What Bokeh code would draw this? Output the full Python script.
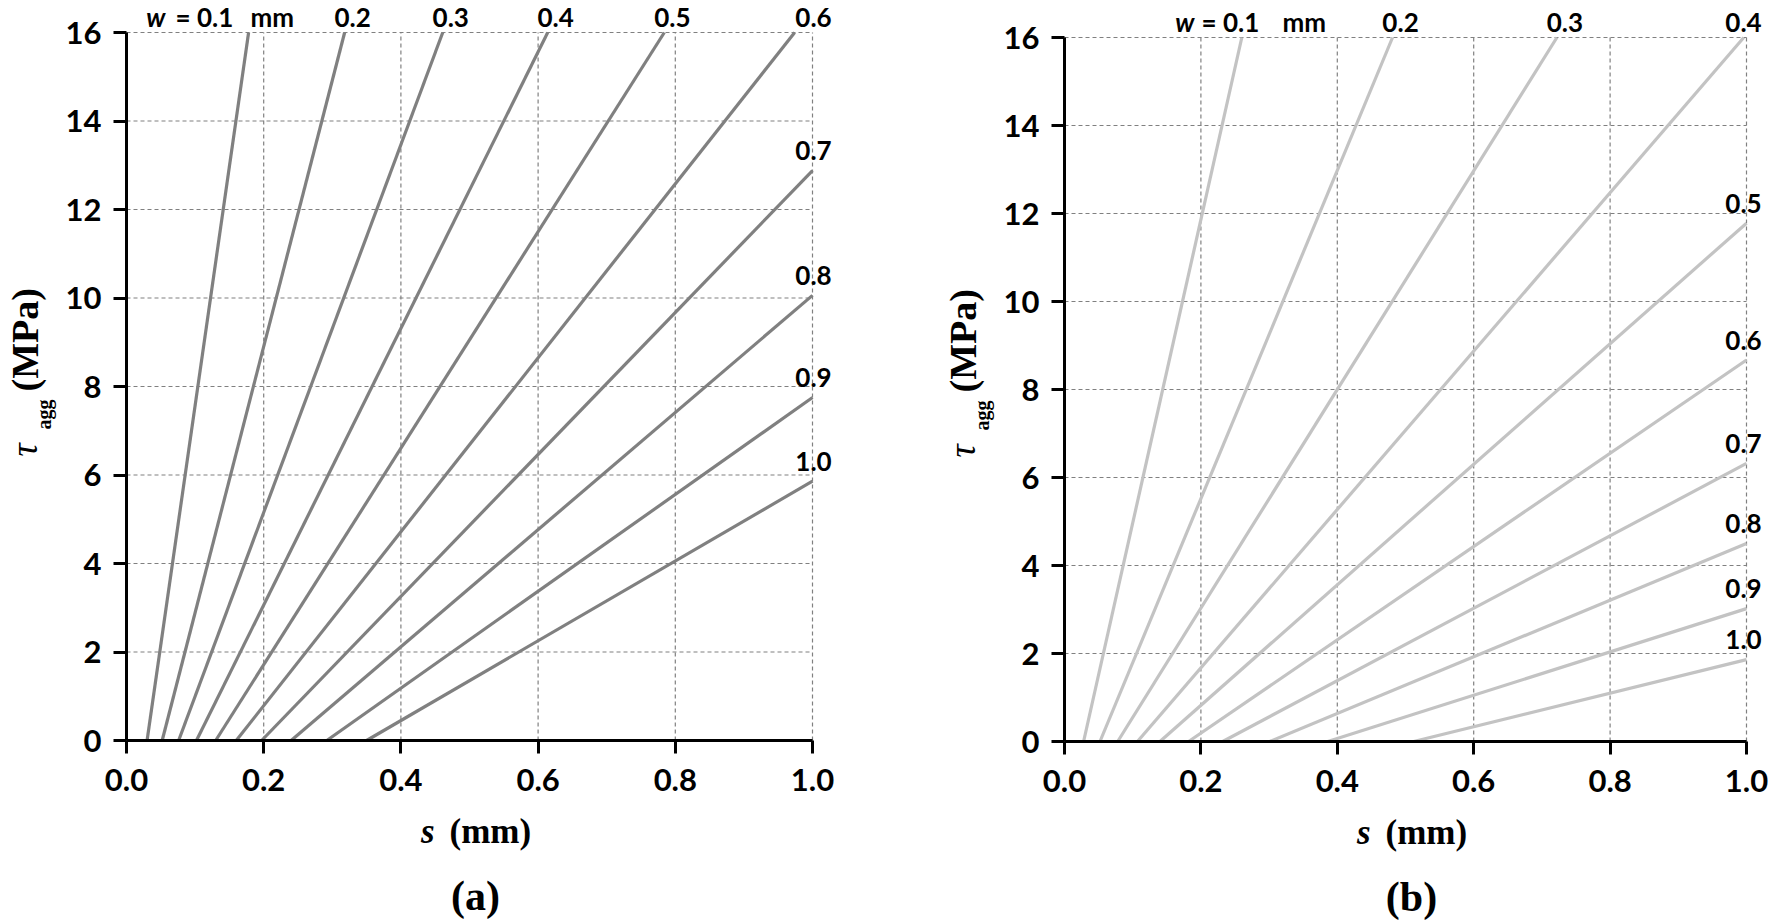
import math
from bokeh.plotting import figure
from bokeh.models import Range1d, FixedTicker, Label, LinearAxis, NumeralTickFormatter
from bokeh.layouts import row
from bokeh.embed import file_html
from bokeh.resources import INLINE

# ---------------- data ----------------
crack_widths = ["0.1", "0.2", "0.3", "0.4", "0.5", "0.6", "0.7", "0.8", "0.9", "1.0"]

# panel (a): slip s where each curve leaves the axis, and where it ends
a_start_s = [0.030, 0.052, 0.076, 0.102, 0.130, 0.160, 0.197, 0.240, 0.292, 0.350]
a_end_s = [0.178, 0.318, 0.461, 0.614, 0.784, 0.974, 1.0, 1.0, 1.0, 1.0]
a_end_tau = [16.0, 16.0, 16.0, 16.0, 16.0, 16.0, 12.88, 10.06, 7.75, 5.86]

# panel (b)
b_start_s = [0.028, 0.052, 0.078, 0.107, 0.140, 0.182, 0.232, 0.301, 0.386, 0.512]
b_end_s = [0.260, 0.481, 0.722, 0.996, 1.0, 1.0, 1.0, 1.0, 1.0, 1.0]
b_end_tau = [16.0, 16.0, 16.0, 16.0, 11.78, 8.67, 6.32, 4.50, 3.02, 1.86]

x_ticks = [0.0, 0.2, 0.4, 0.6, 0.8, 1.0]
x_tick_labels = ["0.0", "0.2", "0.4", "0.6", "0.8", "1.0"]
y_ticks = [0, 2, 4, 6, 8, 10, 12, 14, 16]
y_tick_labels = ["0", "2", "4", "6", "8", "10", "12", "14", "16"]

panel_captions = ["(a)", "(b)"]
x_title_parts = ["s", "(mm)"]
y_title_parts = ["\u03c4", "agg", "(MPa)"]
w_symbol = "w"
w_unit = "mm"

# ---------------- styling ----------------
SANS = "Lato"
SERIF = "Liberation Serif"
X_MIN, X_MAX = 0.0, 1.0
Y_MIN, Y_MAX = 0.0, 16.0
FIG_H = 922


def make_panel(start_s, end_s, end_tau, color, caption, fig_w, left_px, top_px,
               plot_w, plot_h, w_pos, right_dx):
    xspan = X_MAX - X_MIN
    yspan = Y_MAX - Y_MIN
    x_lo = X_MIN - left_px / plot_w * xspan
    x_hi = X_MIN + (fig_w - left_px) / plot_w * xspan
    y_hi = Y_MAX + top_px / plot_h * yspan
    y_lo = Y_MIN - (FIG_H - top_px - plot_h) / plot_h * yspan

    p = figure(width=fig_w, height=FIG_H,
               x_range=Range1d(x_lo, x_hi), y_range=Range1d(y_lo, y_hi),
               x_axis_location=None, y_axis_location=None,
               output_backend="svg", toolbar_location=None, min_border=0)
    p.outline_line_color = None
    p.background_fill_color = "white"
    p.border_fill_color = "white"
    p.xgrid.visible = False
    p.ygrid.visible = False

    def px(d):
        return d * xspan / plot_w

    def py(d):
        return d * yspan / plot_h

    def label(x, y, text, font, style, size, align="center", angle=0.0, xo=0, yo=0):
        p.add_layout(Label(x=x, y=y, x_offset=xo, y_offset=yo, text=text, angle=angle,
                           text_font=font, text_font_style=style, text_font_size=size,
                           text_align=align, text_baseline="middle", text_color="black"))

    # dashed grid at the tick positions
    gx = [t for t in x_ticks if t > X_MIN]
    gy = [t for t in y_ticks if t > Y_MIN]
    p.segment(x0=gx, y0=[Y_MIN] * len(gx), x1=gx, y1=[Y_MAX] * len(gx),
              line_color="#808080", line_width=1.2, line_dash="4 3", level="underlay")
    p.segment(x0=[X_MIN] * len(gy), y0=gy, x1=[X_MAX] * len(gy), y1=gy,
              line_color="#808080", line_width=1.2, line_dash="4 3", level="underlay")

    # axes, pinned at the data origin
    xaxis = LinearAxis(fixed_location=Y_MIN, bounds=(X_MIN, X_MAX),
                       ticker=FixedTicker(ticks=x_ticks),
                       formatter=NumeralTickFormatter(format="0.0"),
                       major_label_overrides=dict(zip(x_ticks, x_tick_labels)))
    yaxis = LinearAxis(fixed_location=X_MIN, bounds=(Y_MIN, Y_MAX),
                       ticker=FixedTicker(ticks=y_ticks),
                       major_label_overrides=dict(zip(y_ticks, y_tick_labels)))
    for ax in (xaxis, yaxis):
        ax.axis_line_color = "black"
        ax.axis_line_width = 3
        ax.major_tick_line_color = "black"
        ax.major_tick_line_width = 3
        ax.major_tick_out = 13
        ax.major_tick_in = 0
        ax.minor_tick_line_color = None
        ax.major_label_text_font = SANS
        ax.major_label_text_font_style = "bold"
        ax.major_label_text_font_size = "31px"
        ax.major_label_text_color = "black"
    xaxis.major_label_standoff = 15
    yaxis.major_label_standoff = 12
    p.add_layout(xaxis, "below")
    p.add_layout(yaxis, "left")

    # curves
    p.segment(x0=start_s, y0=[Y_MIN] * len(start_s), x1=end_s, y1=end_tau,
              line_color=color, line_width=3.2)

    # curve labels
    top_yo = 15.5
    for i, (lab, xs, yt) in enumerate(zip(crack_widths, end_s, end_tau)):
        if i == 0:
            wx_sym, wx_val, wx_unit = w_pos
            label(X_MIN + px(wx_sym), Y_MAX, w_symbol, SANS, "bold italic", "26px",
                  align="right", yo=top_yo)
            label(X_MIN + px(wx_val), Y_MAX, "= " + lab, SANS, "bold", "26px",
                  align="left", yo=top_yo)
            label(X_MIN + px(wx_unit), Y_MAX, w_unit, SANS, "bold", "26px",
                  align="left", yo=top_yo)
        elif yt >= Y_MAX:
            if xs > 0.95:
                label(X_MAX, Y_MAX, lab, SANS, "bold", "26px", xo=right_dx, yo=top_yo)
            else:
                label(xs, Y_MAX, lab, SANS, "bold", "26px", xo=8, yo=top_yo)
        else:
            label(X_MAX, yt, lab, SANS, "bold", "26px", xo=right_dx, yo=20)

    # y title (rotated)
    up = math.pi / 2
    label(X_MIN + px(-102), Y_MIN + py(284), y_title_parts[0], SERIF, "italic", "37px",
          align="left", angle=up)
    label(X_MIN + px(-83), Y_MIN + py(311), y_title_parts[1], SERIF, "bold", "20px",
          align="left", angle=up)
    label(X_MIN + px(-102), Y_MIN + py(349), y_title_parts[2], SERIF, "bold", "38px",
          align="left", angle=up)

    # x title
    cx = (X_MIN + X_MAX) / 2
    label(cx + px(-35), Y_MIN + py(-91), x_title_parts[0], SERIF, "bold italic", "35px",
          align="right")
    label(cx + px(-20), Y_MIN + py(-91), x_title_parts[1], SERIF, "bold", "35px",
          align="left")
    # caption
    label(cx + px(6), Y_MIN + py(-155), caption, SERIF, "bold", "42px")
    return p


pa = make_panel(a_start_s, a_end_s, a_end_tau, "#808080", panel_captions[0],
                fig_w=868, left_px=126, top_px=32, plot_w=686, plot_h=708,
                w_pos=(39, 49, 124), right_dx=1)
pb = make_panel(b_start_s, b_end_s, b_end_tau, "#c3c3c3", panel_captions[1],
                fig_w=905, left_px=196, top_px=37, plot_w=682, plot_h=704,
                w_pos=(130, 137, 218), right_dx=-3)

layout = row(pa, pb)
open("out.html", "w").write(file_html(layout, INLINE))
